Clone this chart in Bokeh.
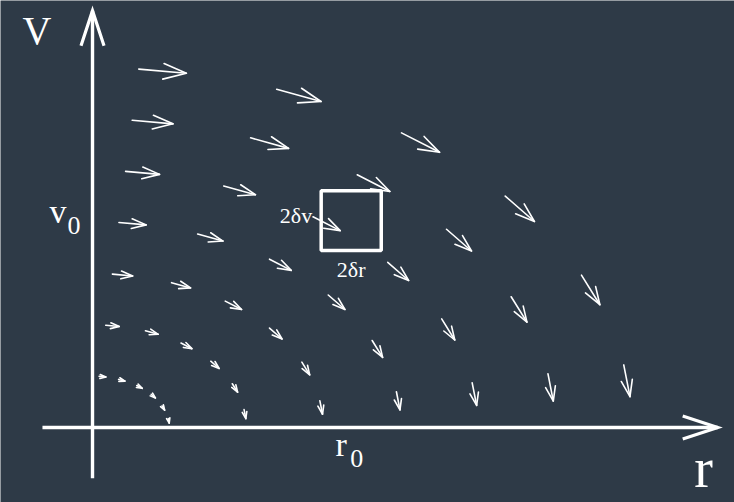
import numpy as np
from bokeh.plotting import figure
from bokeh.models import Range1d, Label
from bokeh.embed import file_html
from bokeh.resources import INLINE

# ---- data: phase-space flow field (r, v) sample points and flow vectors ----
r_pts = [0.13, 0.38, 0.61, 0.79, 0.92, 0.99,
         0.26, 0.77, 1.22, 1.59, 1.85, 1.98,
         0.39, 1.15, 1.83, 2.38, 2.77, 2.97,
         0.52, 1.53, 2.44, 3.17, 3.70, 3.97,
         0.65, 1.91, 3.04, 3.97, 4.62, 4.96,
         0.78, 2.30, 3.65, 4.76, 5.54, 5.95,
         0.91, 2.68, 4.26, 5.55, 6.47, 6.94]
v_pts = [0.99, 0.92, 0.79, 0.61, 0.38, 0.13,
         1.98, 1.85, 1.59, 1.22, 0.77, 0.26,
         2.97, 2.77, 2.38, 1.83, 1.15, 0.39,
         3.97, 3.70, 3.17, 2.44, 1.53, 0.52,
         4.96, 4.62, 3.97, 3.04, 1.91, 0.65,
         5.95, 5.54, 4.76, 3.65, 2.30, 0.78,
         6.94, 6.47, 5.55, 4.26, 2.68, 0.91]
dr = [0.088, 0.082, 0.070, 0.054, 0.034, 0.012,
      0.176, 0.165, 0.142, 0.109, 0.069, 0.023,
      0.264, 0.247, 0.212, 0.163, 0.102, 0.035,
      0.353, 0.329, 0.282, 0.217, 0.136, 0.046,
      0.441, 0.411, 0.353, 0.271, 0.170, 0.058,
      0.530, 0.493, 0.424, 0.325, 0.205, 0.069,
      0.618, 0.576, 0.494, 0.379, 0.239, 0.081]
dv = [-0.012, -0.034, -0.054, -0.070, -0.082, -0.088,
      -0.023, -0.069, -0.109, -0.142, -0.165, -0.176,
      -0.035, -0.102, -0.163, -0.212, -0.247, -0.264,
      -0.046, -0.136, -0.217, -0.282, -0.329, -0.353,
      -0.058, -0.170, -0.271, -0.353, -0.411, -0.441,
      -0.069, -0.205, -0.325, -0.424, -0.493, -0.530,
      -0.081, -0.239, -0.379, -0.494, -0.576, -0.618]

r0, v0 = 3.36, 4.03            # centre of the phase-space cell
delta_r, delta_v = 0.39, 0.58  # half-widths of the cell
r_axis = [-0.65, 8.12]
v_axis = [-0.99, 8.12]

# ---- figure ----
BG = "#2e3a47"
FG = "#ffffff"
FONT = "Liberation Serif"
W, H = 734, 502
x0r, x1r = -1.195, 8.338
y0r, y1r = -1.461, 8.318
sx = W / (x1r - x0r)
sy = H / (y1r - y0r)

p = figure(width=W, height=H, x_range=Range1d(x0r, x1r), y_range=Range1d(y0r, y1r),
           output_backend="svg", toolbar_location=None, min_border=0,
           x_axis_location=None, y_axis_location=None,
           background_fill_color=BG, border_fill_color=BG, outline_line_color=None)
p.grid.visible = False


def px_x(px):
    return x0r + px / sx


def px_y(py):
    return y1r - py / sy


def open_heads(xa, ya, xb, yb, hl, hw):
    xa, ya, xb, yb = map(np.asarray, (xa, ya, xb, yb))
    dxp = (xb - xa) * sx
    dyp = (yb - ya) * sy
    L = np.hypot(dxp, dyp)
    ux, uy = dxp / L, dyp / L
    hl = np.broadcast_to(hl, L.shape)
    hw = np.broadcast_to(hw, L.shape)
    bx = xb * sx - hl * ux
    by = yb * sy - hl * uy
    b1x = (bx - hw * uy) / sx
    b1y = (by + hw * ux) / sy
    b2x = (bx + hw * uy) / sx
    b2y = (by - hw * ux) / sy
    xs = [[b1x[i], xb[i], b2x[i]] for i in range(len(L))]
    ys = [[b1y[i], yb[i], b2y[i]] for i in range(len(L))]
    return xs, ys, L


# flow arrows
r_arr = np.array(r_pts); v_arr = np.array(v_pts)
dr_arr = np.array(dr); dv_arr = np.array(dv)
xa = r_arr - dr_arr / 2; ya = v_arr - dv_arr / 2
xb = r_arr + dr_arr / 2; yb = v_arr + dv_arr / 2
Lpx = np.hypot(dr_arr * sx, dv_arr * sy)
hl = 0.42 * Lpx + 3.0
hw = 0.34 * hl
hx, hy, _ = open_heads(xa, ya, xb, yb, hl, hw)
p.segment(xa, ya, xb, yb, line_color=FG, line_width=1.6, line_cap="round")
p.multi_line(hx, hy, line_color=FG, line_width=1.6, line_join="round", line_cap="round")

# axes with open arrow heads
ax_xa = [r_axis[0], 0.0]
ax_ya = [0.0, v_axis[0]]
ax_xb = [r_axis[1], 0.0]
ax_yb = [0.0, v_axis[1]]
p.segment(ax_xa, ax_ya, ax_xb, ax_yb, line_color=FG, line_width=3.4)
ahx, ahy, _ = open_heads(ax_xa, ax_ya, ax_xb, ax_yb, 35.0, 11.5)
p.multi_line(ahx, ahy, line_color=FG, line_width=3.2, line_join="miter")

# cell box
p.rect(x=[r0], y=[v0], width=[2 * delta_r], height=[2 * delta_v],
       fill_alpha=0, line_color=FG, line_width=3.5)

SHIFT = 0.36  # compensation (in em) for the renderer's baseline offset


def lab(text, x, y, size, align="center"):
    p.add_layout(Label(x=x, y=y + SHIFT * size / sy, text=text, text_color=FG,
                       text_font=FONT, text_font_size=f"{size}px", text_align=align,
                       text_baseline="alphabetic"))


# axis names
lab("V", px_x(36.5), px_y(44), 40)
lab("r", px_x(703), px_y(488), 56)
# r0 / v0 markers
lab("r", r0 - 10 / sx, px_y(456), 34)
lab("0", r0 + 5.5 / sx, px_y(467), 26)
lab("v", px_x(57.5), v0 - 3 / sy, 34)
lab("0", px_x(73.5), v0 - 14 / sy, 26)
# cell size labels
lab("2δv", r0 - delta_r - 9 / sx, v0 - 3 / sy, 22, align="right")
lab("2δr", r0, v0 - delta_v - 27 / sy, 22)

open("out.html", "w").write(file_html(p, INLINE))
